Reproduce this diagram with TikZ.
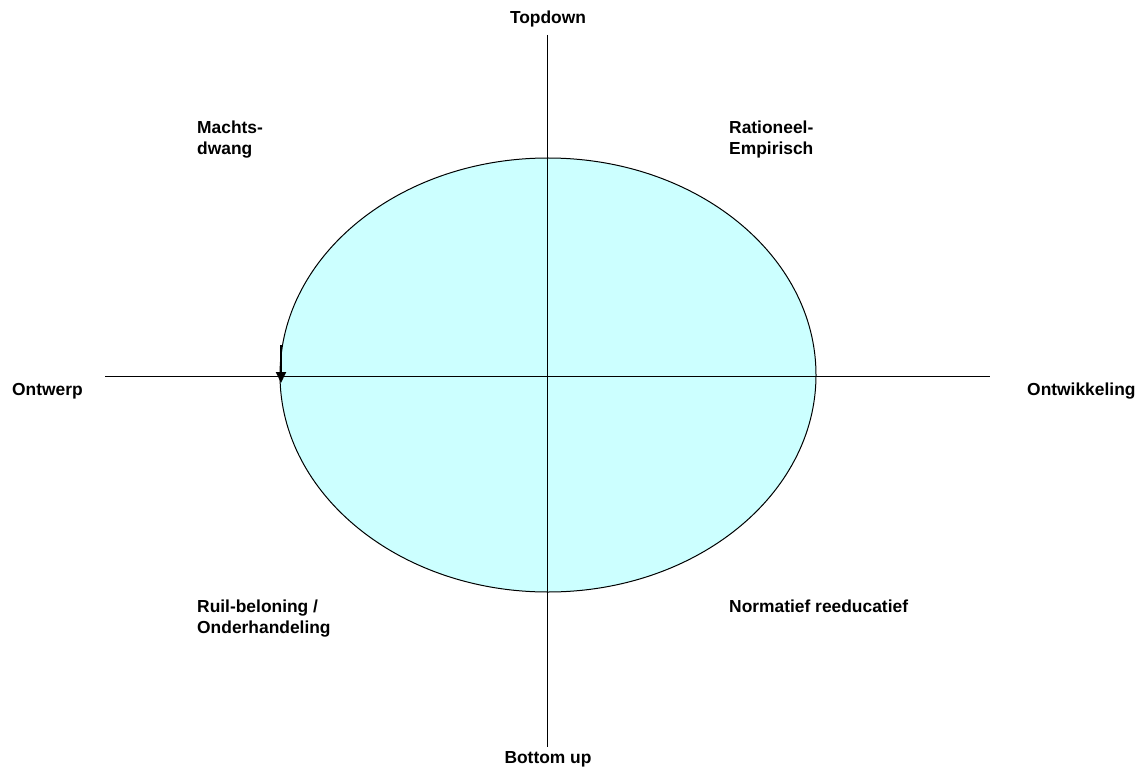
\documentclass[tikz,border=0pt]{standalone}
\usepackage{fontspec}
\setmainfont{Liberation Sans}
\usetikzlibrary{arrows.meta}
\definecolor{ovalfill}{RGB}{204,255,255}
\tikzset{
  lbl/.style={font=\fontsize{17.4}{21}\selectfont\bfseries, inner sep=0pt, align=left},
  axis/.style={draw=black, line width=1pt},
  oval/.style={draw=black, line width=1pt, fill=ovalfill},
  marker/.style={draw=black, line width=2pt, -{Triangle[length=11pt,width=10pt]}}
}
\begin{document}
\begin{tikzpicture}[x=1pt,y=-1pt]
\useasboundingbox (0,0) rectangle (1139,767);
\fill[white] (0,0) rectangle (1139,767);
\path[oval] (548,375) ellipse [x radius=268, y radius=217];
\coordinate (vt) at (547,35);
\coordinate (vb) at (547,747);
\coordinate (hl) at (105,376);
\coordinate (hr) at (990,376);
\draw[axis] (vt) -- (vb);
\draw[axis] (hl) -- (hr);
\coordinate (as) at (281,345);
\coordinate (ae) at (281,383);
\draw[marker] (as) -- (ae);
\node[lbl, anchor=base] (top) at (548,24) {Topdown};
\node[lbl, anchor=base] (bot) at (548,763) {Bottom up};
\node[lbl, anchor=base west] (left) at (12,395) {Ontwerp};
\node[lbl, anchor=base west] (right) at (1027,395) {Ontwikkeling};
\node[lbl, anchor=north west] (q1) at (197,121) {Machts-\\dwang};
\node[lbl, anchor=north west] (q2) at (729,121) {Rationeel-\\Empirisch};
\node[lbl, anchor=north west] (q3) at (197,600) {Ruil-beloning /\\Onderhandeling};
\node[lbl, anchor=north west] (q4) at (729,600) {Normatief reeducatief};
\end{tikzpicture}
\end{document}
